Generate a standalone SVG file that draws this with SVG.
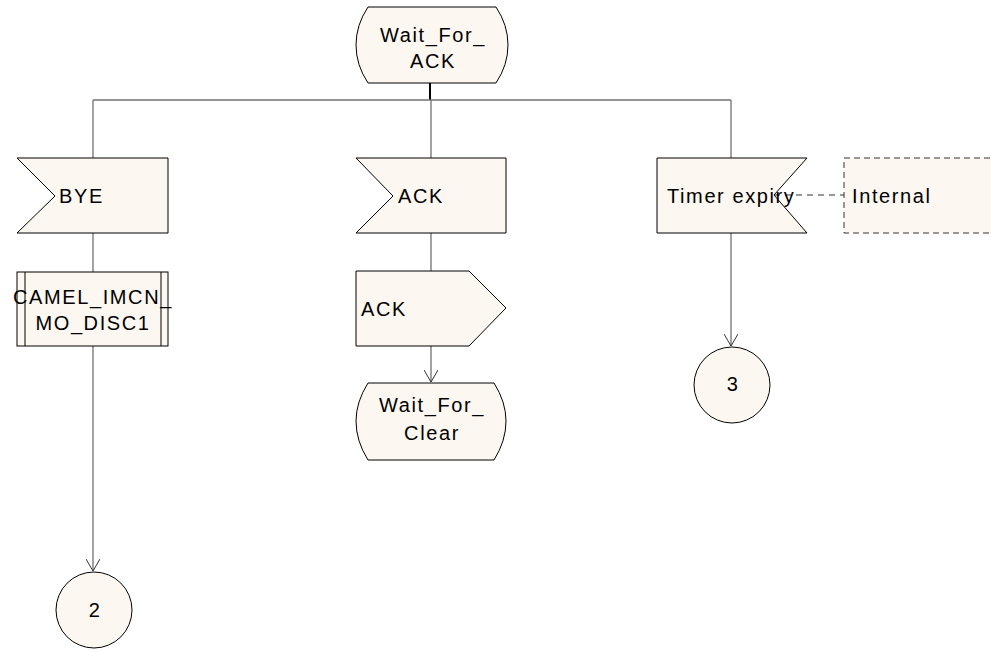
<svg xmlns="http://www.w3.org/2000/svg" width="991" height="652" viewBox="0 0 991 652">
<style>
.s{fill:#fdf7f1;stroke:#000;stroke-width:1}
.c{fill:none;stroke:#707070;stroke-width:1.3}
.t{font-family:"Liberation Sans",Arial,sans-serif;font-size:20px;letter-spacing:1.6px;fill:#000}
</style>
<defs>
<marker id="a" markerWidth="14" markerHeight="14" refX="12" refY="7" orient="auto" markerUnits="userSpaceOnUse">
<path d="M0,0 L12,7 L0,14" fill="none" stroke="#333" stroke-width="1"/>
</marker>
</defs>
<rect width="991" height="652" fill="#fff"/>
<g id="connectors">
<line x1="430" y1="83" x2="430" y2="100" stroke="#000" stroke-width="2"/>
<line x1="93" y1="100" x2="731" y2="100" class="c"/>
<line x1="93" y1="100" x2="93" y2="158" class="c"/>
<line x1="431" y1="100" x2="431" y2="158" class="c"/>
<line x1="731" y1="100" x2="731" y2="158" class="c"/>
<line x1="93" y1="233" x2="93" y2="272" class="c"/>
<line x1="93" y1="346" x2="93" y2="571" class="c" marker-end="url(#a)"/>
<line x1="431" y1="233" x2="431" y2="271" class="c"/>
<line x1="431" y1="346" x2="431" y2="382" class="c" marker-end="url(#a)"/>
<line x1="731" y1="233" x2="731" y2="346" class="c" marker-end="url(#a)"/>
<line x1="774" y1="195" x2="844" y2="195" stroke="#777" stroke-width="1.3" stroke-dasharray="6,5"/>
</g>
<g id="wait_for_ack">
<path class="s" d="M368,7 L496,7 Q508,25 508,45 Q508,65 496,83 L368,83 Q356,65 356,45 Q356,25 368,7 Z"/>
<text class="t" x="433" y="42" text-anchor="middle">Wait_For_</text>
<text class="t" x="433" y="68" text-anchor="middle">ACK</text>
</g>
<g id="bye">
<path class="s" d="M17,158 L168,158 L168,233 L17,233 L55,196 Z"/>
<text class="t" x="59" y="203">BYE</text>
</g>
<g id="camel">
<rect class="s" x="17" y="272" width="151" height="74"/>
<line x1="25" y1="272" x2="25" y2="346" stroke="#000"/>
<line x1="161" y1="272" x2="161" y2="346" stroke="#000"/>
<text class="t" x="93" y="304" text-anchor="middle">CAMEL_IMCN_</text>
<text class="t" x="93" y="330" text-anchor="middle">MO_DISC1</text>
</g>
<g id="conn2">
<circle class="s" cx="94" cy="610" r="38"/>
<text class="t" x="95" y="617" text-anchor="middle">2</text>
</g>
<g id="ack_in">
<path class="s" d="M356,158 L506,158 L506,233 L356,233 L393,196 Z"/>
<text class="t" x="398" y="203">ACK</text>
</g>
<g id="ack_out">
<path class="s" d="M356,271 L469,271 L506,308 L469,346 L356,346 Z"/>
<text class="t" x="361" y="316">ACK</text>
</g>
<g id="wait_for_clear">
<path class="s" d="M368,383 L494,383 Q506,402 506,421 Q506,441 494,460 L368,460 Q356,441 356,421 Q356,402 368,383 Z"/>
<text class="t" x="432" y="412" text-anchor="middle">Wait_For_</text>
<text class="t" x="432" y="440" text-anchor="middle">Clear</text>
</g>
<g id="timer">
<path class="s" d="M657,158 L807,158 L774,195 L807,233 L657,233 Z"/>
<text class="t" x="667" y="203">Timer expiry</text>
</g>
<g id="internal">
<rect x="844" y="158" width="150" height="75" fill="#fdf7f1" stroke="#333" stroke-dasharray="6,4"/>
<text class="t" x="852" y="203">Internal</text>
</g>
<g id="conn3">
<circle class="s" cx="732" cy="385" r="38"/>
<text class="t" x="733" y="391" text-anchor="middle">3</text>
</g>
</svg>
